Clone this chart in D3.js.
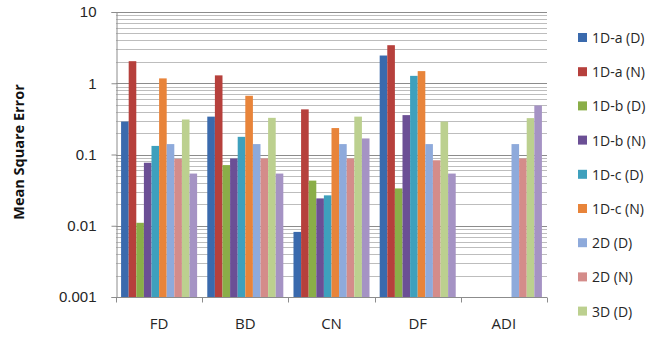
<!DOCTYPE html>
<html><head><meta charset="utf-8">
<script src="https://cdn.jsdelivr.net/npm/d3@7"></script>
<style>
body{margin:0;background:#fff;}
svg{display:block;font-family:"Open Sans","Noto Sans",sans-serif;}
</style></head>
<body><svg id="c" width="658" height="341"></svg>
<script>
const categories = ["FD","BD","CN","DF","ADI"];
const seriesNames = ["1D-a (D)","1D-a (N)","1D-b (D)","1D-b (N)","1D-c (D)","1D-c (N)","2D (D)","2D (N)","3D (D)","3D (N)"];
const s1Da_D = [0.29, 0.34, 0.0082, 2.45, null];
const s1Da_N = [2.04, 1.29, 0.43, 3.42, null];
const s1Db_D = [0.011, 0.071, 0.043, 0.0334, null];
const s1Db_N = [0.0766, 0.088, 0.0242, 0.357, null];
const s1Dc_D = [0.132, 0.177, 0.0267, 1.27, null];
const s1Dc_N = [1.17, 0.667, 0.235, 1.48, null];
const s2D_D = [0.14, 0.14, 0.14, 0.14, 0.14];
const s2D_N = [0.087, 0.088, 0.088, 0.083, 0.088];
const s3D_D = [0.31, 0.327, 0.34, 0.29, 0.324];
const s3D_N = [0.054, 0.054, 0.168, 0.054, 0.488];
const seriesValues = [s1Da_D,s1Da_N,s1Db_D,s1Db_N,s1Dc_D,s1Dc_N,s2D_D,s2D_N,s3D_D,s3D_N];
const legendNames = seriesNames.slice(0, 9);
const yTicks = [0.001, 0.01, 0.1, 1, 10];
const yTickLabels = ["0.001","0.01","0.1","1","10"];
const colors = ["#3a6aad","#b6403c","#8aae48","#6b4f95","#3ea0bd","#e8843a","#8eaadb","#d48c8a","#bcd08f","#a593c4"];

const svg = d3.select("#c");
const L = 116, R = 547, T = 12, B = 297;

const y = d3.scaleLog().domain([0.001, 10]).range([B, T]);
const x0 = d3.scaleBand().domain(categories).range([L, R]).paddingInner(0.118).paddingOuter(0.059);
const x1 = d3.scaleBand().domain(d3.range(seriesNames.length)).range([0, x0.bandwidth()]);

// gridlines
const minor = [];
for (let e = -3; e < 1; e++) for (let m = 2; m <= 9; m++) minor.push(m * Math.pow(10, e));
svg.append("g").selectAll("line").data(minor).join("line")
  .attr("x1", L).attr("x2", R).attr("y1", d => Math.round(y(d)) + 0.5).attr("y2", d => Math.round(y(d)) + 0.5)
  .attr("stroke", "#bdbdbd").attr("stroke-width", 1);
svg.append("g").selectAll("line").data(yTicks.slice(1)).join("line")
  .attr("x1", L).attr("x2", R).attr("y1", d => Math.round(y(d)) + 0.5).attr("y2", d => Math.round(y(d)) + 0.5)
  .attr("stroke", "#8c8c8c").attr("stroke-width", 1);

// bars
const g = svg.append("g");
categories.forEach((c, ci) => {
  seriesValues.forEach((vals, si) => {
    const v = vals[ci];
    if (v == null) return;
    g.append("rect")
      .attr("x", x0(c) + x1(si))
      .attr("y", y(v))
      .attr("width", x1.bandwidth())
      .attr("height", y(0.001) - y(v))
      .attr("fill", colors[si]);
  });
});

// y axis
const yAxis = d3.axisLeft(y).tickValues(yTicks).tickFormat((d, i) => yTickLabels[i]).tickSize(5).tickPadding(15);
const ya = svg.append("g").attr("transform", `translate(${L + 0.5},0)`).call(yAxis);
ya.select(".domain").attr("stroke", "#8c8c8c");
ya.selectAll(".tick line").attr("stroke", "#8c8c8c");
ya.selectAll("text").attr("font-size", 15).attr("fill", "#262626");

// x axis
const xa = svg.append("g").attr("transform", `translate(0,${B + 0.5})`);
xa.append("line").attr("x1", L).attr("x2", R).attr("stroke", "#8c8c8c");
const bounds = categories.map(c => x0(c) - x0.step() * 0.059).concat([R]);
xa.selectAll("line.t").data(bounds).join("line").attr("class", "t")
  .attr("x1", d => Math.round(d) + 0.5).attr("x2", d => Math.round(d) + 0.5).attr("y1", 0).attr("y2", 5)
  .attr("stroke", "#8c8c8c");
xa.selectAll("text").data(categories).join("text")
  .attr("x", d => x0(d) + x0.bandwidth() / 2).attr("y", 31)
  .attr("text-anchor", "middle").attr("font-size", 15).attr("fill", "#262626").text(d => d);

// y title
svg.append("text").attr("transform", "translate(24,152) rotate(-90)")
  .attr("text-anchor", "middle").attr("font-size", 14.5).attr("font-weight", "bold").attr("fill", "#111")
  .text("Mean Square Error");

// legend
const lg = svg.append("g");
legendNames.forEach((n, i) => {
  const yy = 38 + i * 34.2;
  lg.append("rect").attr("x", 578).attr("y", yy - 5).attr("width", 9).attr("height", 9).attr("fill", colors[i]);
  lg.append("text").attr("x", 592).attr("y", yy + 5).attr("font-size", 14).attr("fill", "#262626").text(n);
});
</script></body></html>
